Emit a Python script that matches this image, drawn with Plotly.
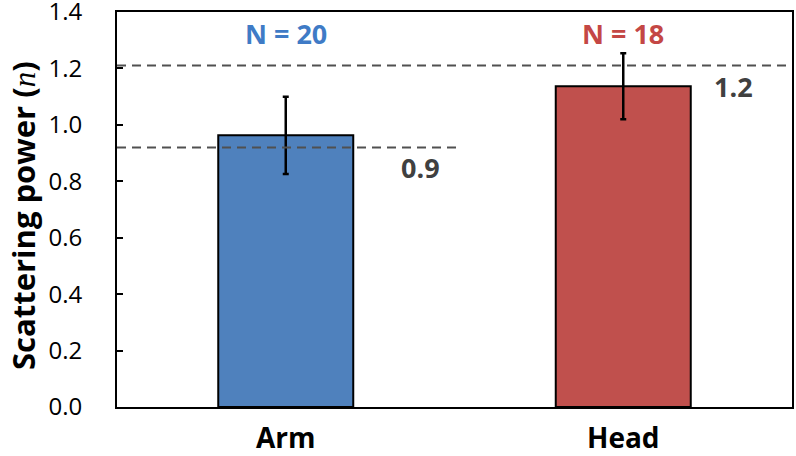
import plotly.graph_objects as go

categories = ["Arm", "Head"]
means = [0.963, 1.137]
errors = [0.137, 0.117]
counts = ["N = 20", "N = 18"]
bar_colors = ["#4f81bd", "#c0504d"]
label_colors = ["#3f7bc6", "#c44745"]
ref_values = [0.92, 1.21]
ref_labels = ["0.9", "1.2"]
ref_extent = [0.505, 1.0]
ref_label_x = [0.45, 0.945]
y_title = "<b>Scattering power (</b><i><span style='font-family:Liberation Serif'>n</span></i><b>)</b>"

FONT = "Open Sans"

fig = go.Figure()
fig.add_trace(go.Bar(
    x=categories, y=means, width=0.4,
    marker=dict(color=bar_colors, line=dict(color="black", width=2)),
    error_y=dict(type="data", array=errors, visible=True, color="black",
                 thickness=2.5, width=3),
    showlegend=False,
))

shapes = []
annotations = []
for v, ext, lab, lx in zip(ref_values, ref_extent, ref_labels, ref_label_x):
    shapes.append(dict(type="line", xref="paper", yref="y", x0=0, x1=ext, y0=v, y1=v,
                       line=dict(color="#505050", width=2, dash="9px,6px"), layer="above"))
    annotations.append(dict(text=f"<b>{lab}</b>", xref="paper", yref="y", x=lx, y=v,
                            yanchor="top", yshift=0, showarrow=False,
                            font=dict(family=FONT, size=27, color="#404040")))

for c, n, col in zip(categories, counts, label_colors):
    annotations.append(dict(text=f"<b>{n}</b>", x=c, xref="x", yref="y", y=1.323,
                            yanchor="middle", showarrow=False,
                            font=dict(family=FONT, size=27, color=col)))

annotations.append(dict(text=y_title, xref="paper", yref="paper", x=-0.14, y=0.5,
                        xanchor="center", yanchor="middle", yshift=-6, textangle=-90,
                        showarrow=False, font=dict(family=FONT, size=31, color="black")))

fig.update_layout(
    width=796, height=456,
    margin=dict(l=117, r=4, t=12, b=49),
    plot_bgcolor="white", paper_bgcolor="white",
    shapes=shapes, annotations=annotations,
    font=dict(family=FONT, color="black"),
    bargap=0.6,
)
fig.update_xaxes(
    range=[-0.5, 1.5], showline=True, linecolor="black", linewidth=2, mirror=True,
    ticks="", tickfont=dict(family=FONT, size=28, color="black"),
    tickprefix="<b>", ticksuffix="</b>", ticklabelstandoff=5, automargin=False,
)
fig.update_yaxes(
    range=[0, 1.4], tickmode="linear", tick0=0, dtick=0.2, tickformat=".1f",
    showline=True, linecolor="black", linewidth=2, mirror=True,
    ticks="inside", ticklen=6, tickwidth=2, tickcolor="black",
    showgrid=False, zeroline=False, automargin=False,
    tickfont=dict(family=FONT, size=24, color="black"),
    ticklabelstandoff=28, ticklabeloverflow="allow",
)

fig.write_html("out.html")
